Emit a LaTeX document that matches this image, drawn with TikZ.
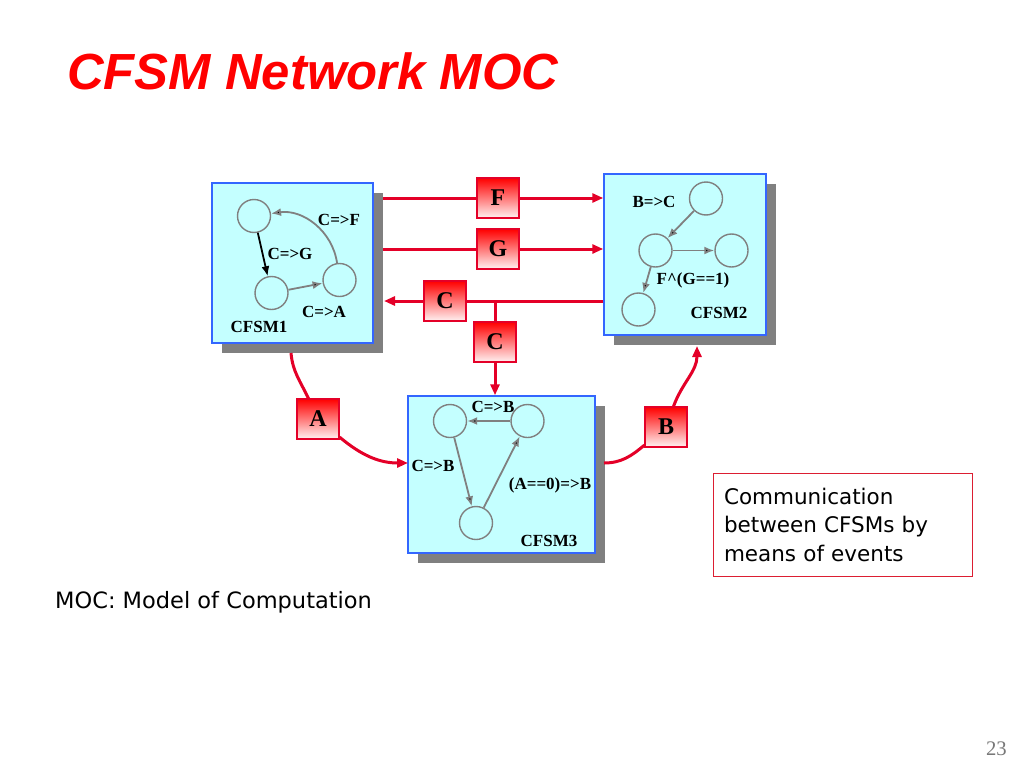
\documentclass[tikz,border=0pt]{standalone}
\usepackage{fontspec}
\setmainfont{Liberation Serif}
\newfontfamily\titlefont{Liberation Sans}
\newfontfamily\bodyfont{DejaVu Sans}
\usetikzlibrary{arrows.meta,shadows,positioning}

\definecolor{cfsmcyan}{RGB}{196,255,255}
\definecolor{cfsmblue}{RGB}{51,102,255}
\definecolor{cfsmshadow}{RGB}{128,128,128}
\definecolor{stgray}{RGB}{128,128,128}
\definecolor{evred}{RGB}{228,0,40}
\definecolor{titlered}{RGB}{255,0,0}
\definecolor{notered}{RGB}{220,30,50}
\definecolor{pagegray}{RGB}{120,120,120}

\begin{document}
\begin{tikzpicture}[x=1pt,y=1pt]
    \tikzset{fsm/.style={draw=cfsmblue,fill=cfsmcyan,line width=1.5pt,inner sep=0pt,
        general shadow={fill=cfsmshadow,shadow xshift=9.5pt,shadow yshift=-9.5pt}},
      fsmstate/.style={circle,draw=stgray,line width=1.4pt,minimum size=33pt,inner sep=0pt},
      trans/.style={draw=stgray,line width=1.8pt,-{Latex[length=10pt,width=8pt]}},
      lbl/.style={font=\fontsize{17}{17}\selectfont\bfseries,inner sep=0pt},
      ev/.style={draw=evred,line width=1.2pt,top color=red,bottom color=red!5,
        minimum width=42pt,minimum height=40pt,inner sep=0pt,
        font=\fontsize{24}{24}\selectfont\bfseries},
      evline/.style={draw=evred,line width=3pt},
      evarrow/.style={evline,-{Triangle[length=11pt,width=9pt]}}}
    \fill[white] (0,0) rectangle (1024,-768);
    \useasboundingbox (0,0) rectangle (1024,-768);
    % title and texts
    \node[anchor=base west,inner sep=0pt,text=titlered,
      font=\titlefont\bfseries\itshape\fontsize{50.8}{60}\selectfont] (title) at (67,-89) {CFSM Network MOC};
    \node[anchor=base west,inner sep=0pt,font=\bodyfont\fontsize{22.5}{27}\selectfont] (moc) at (55,-608) {MOC: Model of Computation};
    \node[anchor=base east,inner sep=0pt,text=pagegray,font=\fontsize{20.7}{24}\selectfont] (page) at (1007,-755) {23};
    \node[draw=notered,line width=1pt,minimum width=259pt,minimum height=103pt,
      text width=237pt,inner xsep=11pt,align=left,
      font=\bodyfont\fontsize{21.5}{28.5}\selectfont] (note) at (842.5,-524.5)
      {Communication\\between CFSMs by\\means of events};
    % the three machines
    \node[fsm,minimum width=161pt,minimum height=160pt] (m1) at (292.5,-263) {};
    \node[fsm,minimum width=162pt,minimum height=161pt] (m2) at (685,-254.5) {};
    \node[fsm,minimum width=187pt,minimum height=157pt] (m3) at (501.5,-474.5) {};
    % CFSM1
    \node[fsmstate] (s11) at (254,-216) {};
    \node[fsmstate] (s12) at (271.5,-293) {};
    \node[fsmstate] (s13) at (339.5,-280) {};
    \node[lbl] at (339,-220) {C=>F};
    \node[lbl] at (290,-254) {C=>G};
    \node[lbl] at (324,-312) {C=>A};
    \node[lbl] at (259,-327) {CFSM1};
    \path[trans]
    (s11) edge [draw=black] (s12)
    (s12) edge [] (s13)
    (s13) edge [bend right=45] (s11)
    ;
    % CFSM2
    \node[fsmstate] (s21) at (706,-198.5) {};
    \node[fsmstate] (s22) at (655.5,-250.5) {};
    \node[fsmstate] (s23) at (731.5,-250.5) {};
    \node[fsmstate] (s24) at (638.5,-309.5) {};
    \node[lbl] at (654,-202) {B=>C};
    \node[lbl] at (693,-280) {F\textasciicircum(G==1)};
    \node[lbl] at (719,-313) {CFSM2};
    \path[trans]
    (s21) edge [] (s22)
    (s22) edge [] (s23)
    edge [] (s24)
    ;
    % CFSM3
    \node[fsmstate] (s31) at (450,-421) {};
    \node[fsmstate] (s32) at (527.5,-421) {};
    \node[fsmstate] (s33) at (476,-523) {};
    \node[lbl] at (493,-407) {C=>B};
    \node[lbl] at (433,-466) {C=>B};
    \node[lbl] at (550,-485) {(A==0)=>B};
    \node[lbl] at (549,-541) {CFSM3};
    \path[trans]
    (s32) edge [] (s31)
    (s31) edge [] (s33)
    (s33) edge [] (s32)
    ;
    % events
    \node[ev] (eF) at (498,-198) {F};
    \node[ev] (eG) at (498,-249) {G};
    \node[ev] (eC1) at (445,-301) {C};
    \node[ev] (eC2) at (495,-342) {C};
    \node[ev] (eA) at (318,-419) {A};
    \node[ev] (eB) at (666,-427) {B};
    \coordinate (f0) at (383,-198);
    \coordinate (g0) at (383,-249);
    \coordinate (c0) at (384,-301);
    \coordinate (cj) at (495,-301);
    \coordinate (a0) at (291,-353);
    \coordinate (a9) at (408,-463);
    \coordinate (b0) at (604,-463);
    \coordinate (b9) at (697,-346);
    \draw[evline] (f0) -- (eF);
    \draw[evarrow] (eF) -- (m2.west |- eF);
    \draw[evline] (g0) -- (eG);
    \draw[evarrow] (eG) -- (m2.west |- eG);
    \draw[evline] (m2.west |- cj) -- (eC1);
    \draw[evarrow] (eC1) -- (c0);
    \draw[evline] (cj) -- (eC2);
    \draw[evarrow] (eC2) -- (m3.north -| eC2);
    \draw[evline] (a0) to[out=-85,in=115] (eA);
    \draw[evarrow] (eA) to[out=-40,in=180] (a9);
    \draw[evline] (b0) to[out=0,in=-140] (eB);
    \draw[evarrow] (eB) to[out=70,in=-90] (b9);
\end{tikzpicture}
\end{document}
